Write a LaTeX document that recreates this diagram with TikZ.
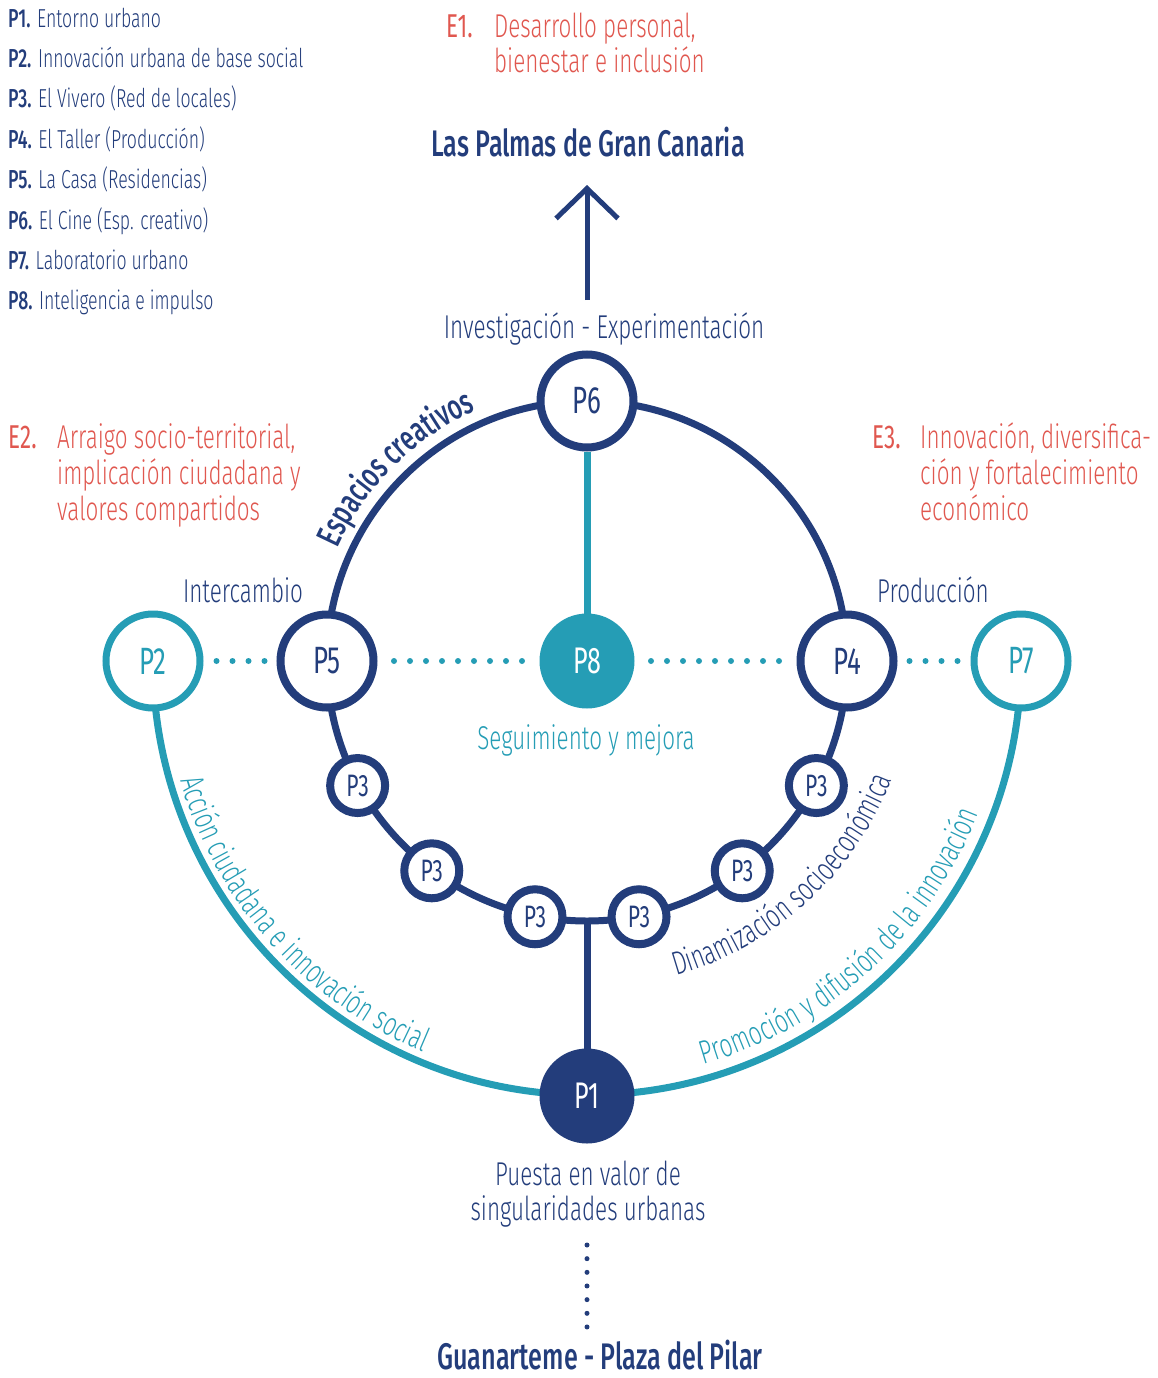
\documentclass[tikz,border=0pt]{standalone}
\usepackage{fontspec}
\setmainfont{Fira Sans Light}[FakeStretch=0.68, BoldFont={Fira Sans Medium}]
\newfontfamily\regfont{Fira Sans}[FakeStretch=0.68]
\usetikzlibrary{calc,decorations.text,arrows.meta}
\definecolor{navy}{HTML}{233D7B}
\definecolor{tealc}{HTML}{259DB5}
\definecolor{redc}{HTML}{E0574F}
\pgfdeclarelayer{bg}
\pgfsetlayers{bg,main}
\begin{document}
\begin{tikzpicture}[x=1pt,y=1pt,
  bignode/.style={circle, draw=navy, line width=8pt, fill=white, minimum size=93pt, inner sep=0pt, text=navy, font=\fontsize{38}{38}\selectfont\regfont},
  tealnode/.style={circle, draw=tealc, line width=7pt, fill=white, minimum size=94pt, inner sep=0pt, text=tealc, font=\fontsize{38}{38}\selectfont\regfont},
  fillnode/.style={circle, fill=#1, minimum size=95pt, inner sep=0pt, outer sep=0pt, text=white, font=\fontsize{37}{37}\selectfont\regfont},
  smallnode/.style={circle, draw=navy, line width=8pt, fill=white, minimum size=55pt, inner sep=0pt, text=navy, font=\fontsize{31}{31}\selectfont\regfont},
  legend/.style={anchor=base west, inner sep=0pt, text=navy, font=\fontsize{26}{30}\selectfont},
  body/.style={anchor=base, inner sep=0pt, font=\fontsize{33}{36}\selectfont},
  redtxt/.style={anchor=base west, inner sep=0pt, text=redc, font=\fontsize{33}{36}\selectfont},
  title/.style={anchor=base, inner sep=0pt, text=navy, font=\fontsize{37}{40}\selectfont\bfseries},
  navyline/.style={draw=navy, line width=7pt},
  tealline/.style={draw=tealc, line width=7pt},
  dotline/.style={draw=tealc, line width=6pt, line cap=round, dash pattern=on 0pt off 16pt}
]
\path[use as bounding box] (0,0) rectangle (1158,-1378);
\coordinate (C) at (587,-661);
\coordinate (bot) at ([shift={(C)}]270:260);

% legend
\node[legend] (l1) at (8,-28) {\textbf{P1.} Entorno urbano};
\node[legend] (l2) at (8,-68) {\textbf{P2.} Innovación urbana de base social};
\node[legend] (l3) at (8,-108) {\textbf{P3.} El Vivero (Red de locales)};
\node[legend] (l4) at (8,-148) {\textbf{P4.} El Taller (Producción)};
\node[legend] (l5) at (8,-188) {\textbf{P5.} La Casa (Residencias)};
\node[legend] (l6) at (8,-229) {\textbf{P6.} El Cine (Esp. creativo)};
\node[legend] (l7) at (8,-269) {\textbf{P7.} Laboratorio urbano};
\node[legend] (l8) at (8,-309) {\textbf{P8.} Inteligencia e impulso};

% E blocks
\node[redtxt] (e1) at (446,-38) {\regfont E1.};
\node[redtxt] (e1a) at (494,-38) {Desarrollo personal,};
\node[redtxt] (e1b) at (494,-73) {bienestar e inclusión};
\node[redtxt] (e2) at (8,-448) {\regfont E2.};
\node[redtxt] (e2a) at (57,-448) {Arraigo socio-territorial,};
\node[redtxt] (e2b) at (57,-484) {implicación ciudadana y};
\node[redtxt] (e2c) at (57,-520) {valores compartidos};
\node[redtxt] (e3) at (872,-448) {\regfont E3.};
\node[redtxt] (e3a) at (920,-448) {Innovación, diversifica-};
\node[redtxt] (e3b) at (920,-484) {ción y fortalecimiento};
\node[redtxt] (e3c) at (920,-520) {económico};

% titles and labels
\node[title] (lpgc) at (588,-157) {Las Palmas de Gran Canaria};
\node[title] (guan) at (600,-1369) {Guanarteme - Plaza del Pilar};
\node[body, text=navy] (inv) at (604,-338) {Investigación - Experimentación};
\node[body, text=navy] (inter) at (243,-602) {Intercambio};
\node[body, text=navy] (prod) at (933,-602) {Producción};
\node[body, text=tealc] (seg) at (586,-749) {Seguimiento y mejora};
\node[body, text=navy] (pv1) at (588,-1185) {Puesta en valor de};
\node[body, text=navy] (pv2) at (588,-1220) {singularidades urbanas};

% main nodes
\node[bignode] (P6) at ([shift={(C)}]90:260) {P6};
\node[bignode] (P5) at ([shift={(C)}]180:260) {P5};
\node[bignode] (P4) at ([shift={(C)}]0:260) {P4};
\node[fillnode=tealc] (P8) at (C) {P8};
\node[fillnode=navy] (P1) at ([shift={(C)}]270:435) {P1};
\node[tealnode] (P2) at ([shift={(C)}]180:434) {P2};
\node[tealnode] (P7) at ([shift={(C)}]0:434) {P7};
\node[smallnode] (P3a) at ([shift={(C)}]208.5:261) {P3};
\node[smallnode] (P3b) at ([shift={(C)}]233.5:261) {P3};
\node[smallnode] (P3c) at ([shift={(C)}]258.5:261) {P3};
\node[smallnode] (P3d) at ([shift={(C)}]281.5:261) {P3};
\node[smallnode] (P3e) at ([shift={(C)}]306.5:261) {P3};
\node[smallnode] (P3f) at ([shift={(C)}]331.5:261) {P3};

% connectors
\begin{pgfonlayer}{bg}
\draw[navyline] (C) circle[radius=260];
\draw[tealline] (P2.center) arc[start angle=180, end angle=360, radius=434];
\draw[tealline] (P6) -- (P8);
\draw[navyline] (P1) -- (bot);
\end{pgfonlayer}
\draw[dotline, shorten <=13pt, shorten >=11pt] (P2) -- (P5);
\draw[dotline, shorten <=16.5pt, shorten >=16.5pt] (P5) -- (P8);
\draw[dotline, shorten <=16.5pt, shorten >=16.5pt] (P8) -- (P4);
\draw[dotline, shorten <=12pt, shorten >=12pt] (P4) -- (P7);

% arrow
\coordinate (arrbase) at (587,-300);
\coordinate (arrtip) at (587,-185);
\draw[draw=navy, line width=5pt, -{Straight Barb[length=30pt,width=62pt]}] (arrbase) -- (arrtip);

% vertical dots
\coordinate (vd1) at (587,-1245);
\coordinate (vd2) at (587,-1327.5);
\draw[draw=navy, line width=5pt, line cap=round, dash pattern=on 0pt off 13.66pt] (vd1) -- (vd2);

% curved texts
\path[decorate, decoration={text along path, text align=center,
  text={|\fontsize{35}{35}\selectfont\bfseries\color{navy}|Espacios creativos}}]
  ([shift={(C)}]164.8:274) arc[start angle=164.8, end angle=104.8, radius=274];
\path[decorate, decoration={text along path, text align=center,
  text={|\fontsize{33}{33}\selectfont\color{navy}|Dinamización socioeconómica}}]
  ([shift={(C)}]-87.7:327) arc[start angle=-87.7, end angle=-7.7, radius=327];
\path[decorate, decoration={text along path, text align=center,
  text={|\fontsize{33}{33}\selectfont\color{tealc}|Promoción y difusión de la innovación}}]
  ([shift={(C)}]-87.6:420) arc[start angle=-87.6, end angle=-7.6, radius=420];
\path[decorate, decoration={text along path, text align=center,
  text={|\fontsize{33}{33}\selectfont\color{tealc}|Acción ciudadana e innovación social}}]
  ([shift={(C)}]181.8:424) arc[start angle=181.8, end angle=261.8, radius=424];
\end{tikzpicture}
\end{document}
